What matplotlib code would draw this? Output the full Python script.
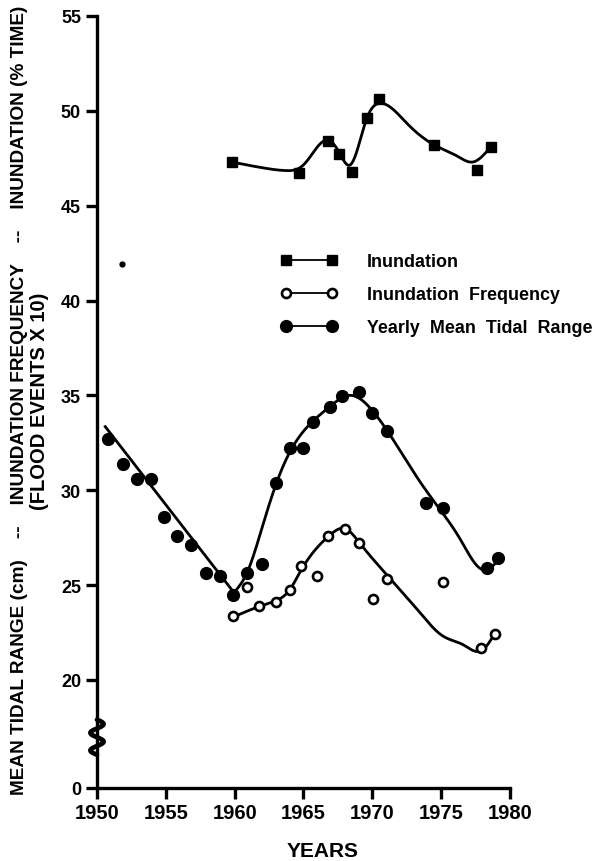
import numpy as np
import matplotlib.pyplot as plt
from matplotlib import transforms

plt.rcParams['font.family'] = ['Liberation Sans', 'DejaVu Sans']
plt.rcParams['font.weight'] = 'bold'

# data
# inundation (% time) - filled squares
inund_years = [1959.8, 1964.7, 1966.8, 1967.6, 1968.5, 1969.6, 1970.5, 1974.5, 1977.6, 1978.6]
inund_vals = [47.3, 46.7, 48.4, 47.7, 46.8, 49.6, 50.6, 48.2, 46.9, 48.1]
# hand drawn curve through the inundation points
inund_curve_years = [1959.8, 1962.0, 1963.7, 1965.0, 1966.8, 1967.6, 1968.4, 1969.6, 1970.6,
                     1972.5, 1974.5, 1976.2, 1977.3, 1978.6]
inund_curve_vals = [47.3, 47.0, 46.85, 47.15, 48.45, 47.8, 47.15, 49.6, 50.4,
                    49.35, 48.2, 47.6, 47.3, 48.1]

# inundation frequency (flood events x 10) - open circles
freq_years = [1959.9, 1960.9, 1961.8, 1963.0, 1964.0, 1964.8, 1966.0, 1966.8, 1968.0, 1969.0,
              1970.05, 1971.1, 1975.1, 1977.9, 1978.9]
freq_vals = [23.35, 24.9, 23.9, 24.1, 24.75, 26.0, 25.5, 27.6, 27.95, 27.2,
             24.25, 25.3, 25.15, 21.7, 22.4]
freq_curve_years = [1959.95, 1961.8, 1962.95, 1964.0, 1964.8, 1966.9, 1968.0, 1969.1, 1971.1,
                    1973.45, 1975.15, 1976.6, 1977.95, 1978.9]
freq_curve_vals = [23.33, 23.87, 24.16, 24.75, 25.75, 27.62, 27.98, 27.2, 25.5,
                   23.55, 22.3, 21.85, 21.55, 22.45]

# yearly mean tidal range (cm) - filled circles
tide_years = [1950.8, 1951.9, 1952.9, 1953.9, 1954.9, 1955.8, 1956.8, 1957.9, 1958.9, 1959.9,
              1960.9, 1962.0, 1963.0, 1964.0, 1965.0, 1965.7, 1966.9, 1967.8, 1969.0, 1970.0,
              1971.1, 1973.9, 1975.1, 1978.3, 1979.1]
tide_vals = [32.7, 31.4, 30.6, 30.6, 28.6, 27.6, 27.1, 25.65, 25.5, 24.45,
             25.65, 26.1, 30.4, 32.2, 32.2, 33.6, 34.4, 34.95, 35.2, 34.05,
             33.1, 29.35, 29.05, 25.9, 26.4]
# straight decline 1950-1960, then smooth rise and fall
tide_line_years = [1950.6, 1959.95]
tide_line_vals = [33.35, 24.6]
tide_curve_years = [1959.95, 1960.9, 1961.9, 1962.9, 1964.0, 1965.7, 1966.9, 1968.4, 1970.0,
                    1971.3, 1973.45, 1975.15, 1976.4, 1978.06, 1979.15]
tide_curve_vals = [24.6, 25.65, 27.8, 30.1, 32.0, 33.65, 34.4, 35.0, 34.2,
                   32.9, 30.46, 28.75, 27.4, 25.8, 26.3]

# stray dot on the original
stray_years = [1951.8]
stray_vals = [41.95]

y_bottom = 14.3  # where the broken axis puts "0"
y_ticks = [y_bottom, 20, 25, 30, 35, 40, 45, 50, 55]
y_ticklabels = ['0', '20', '25', '30', '35', '40', '45', '50', '55']
x_ticks = [1950, 1955, 1960, 1965, 1970, 1975, 1980]


def spline(xs, ys, n=400):
    # natural cubic spline through the curve knots
    x = np.asarray(xs, float)
    y = np.asarray(ys, float)
    h = np.diff(x)
    m = len(x)
    A = np.zeros((m, m))
    b = np.zeros(m)
    A[0, 0] = A[-1, -1] = 1
    for i in range(1, m - 1):
        A[i, i - 1] = h[i - 1]
        A[i, i] = 2 * (h[i - 1] + h[i])
        A[i, i + 1] = h[i]
        b[i] = 3 * ((y[i + 1] - y[i]) / h[i] - (y[i] - y[i - 1]) / h[i - 1])
    c = np.linalg.solve(A, b)
    bc = (y[1:] - y[:-1]) / h - h * (2 * c[:-1] + c[1:]) / 3
    d = (c[1:] - c[:-1]) / (3 * h)
    xx = np.linspace(x[0], x[-1], n)
    k = np.clip(np.searchsorted(x, xx) - 1, 0, m - 2)
    dx = xx - x[k]
    return xx, y[k] + bc[k] * dx + c[k] * dx ** 2 + d[k] * dx ** 3


fig = plt.figure(figsize=(5.98, 8.62), dpi=100)
ax = fig.add_axes([0.1622, 0.0847, 0.6906, 0.8956])

lw = 2.0
# inundation
ax.plot(*spline(inund_curve_years, inund_curve_vals), color='black', lw=lw)
ax.plot(inund_years, inund_vals, 's', color='black', ms=7.5, label='Inundation')
# frequency
ax.plot(*spline(freq_curve_years, freq_curve_vals), color='black', lw=lw)
ax.plot(freq_years, freq_vals, 'o', mfc='white', mec='black', mew=1.9, ms=6.5,
        label='Inundation  Frequency')
# tidal range
ax.plot(tide_line_years, tide_line_vals, color='black', lw=lw)
ax.plot(*spline(tide_curve_years, tide_curve_vals), color='black', lw=lw)
ax.plot(tide_years, tide_vals, 'o', color='black', ms=8.5, label='Yearly  Mean  Tidal  Range')
ax.plot(stray_years, stray_vals, 'o', color='black', ms=3.5)

ax.set_xlim(1950, 1980)
ax.set_ylim(y_bottom, 55)
ax.set_xticks(x_ticks)
ax.set_yticks(y_ticks)
ax.set_yticklabels(y_ticklabels)
for s in ['top', 'right']:
    ax.spines[s].set_visible(False)
for s in ['left', 'bottom']:
    ax.spines[s].set_linewidth(2.4)
ax.tick_params(axis='y', length=8, width=2.4, pad=3.5, labelsize=13)
ax.tick_params(axis='x', length=8, width=2.4, pad=3, labelsize=14.5)

# axis break squiggle
trans = transforms.blended_transform_factory(ax.transAxes, ax.transData)
sy = np.linspace(17.9, 16.05, 60)
sx = 0.016 * np.sin(np.linspace(0, 4 * np.pi, 60))
ax.plot(sx, sy, color='black', lw=3.4, transform=trans, clip_on=False, solid_capstyle='round')

# legend with markers at both ends of each handle
h, l = ax.get_legend_handles_labels()
h = [plt.Line2D([], [], marker=x.get_marker(), color='black', lw=1.3, ms=x.get_markersize(),
                mfc=x.get_markerfacecolor(), mec='black', mew=x.get_markeredgewidth()) for x in h]
ax.legend(h, l, loc='upper left', bbox_to_anchor=(281 / 598, 1 - 254 / 862),
          bbox_transform=fig.transFigure, frameon=False, numpoints=2, handlelength=3.15,
          handletextpad=1.65, labelspacing=0.9, borderpad=0, borderaxespad=0,
          prop={'size': 12.9, 'weight': 'bold'})

fig.text(323 / 598, 1 - 852 / 862, 'YEARS', ha='center', va='center', fontsize=15)
fig.text(20 / 598, 1 - 400 / 862,
         'MEAN TIDAL RANGE (cm)    --    INUNDATION FREQUENCY    --    INUNDATION (% TIME)',
         rotation=90, ha='center', va='center', fontsize=13.7)
fig.text(40 / 598, 1 - 401 / 862, '(FLOOD EVENTS X 10)', rotation=90, ha='center',
         va='center', fontsize=14.5)

fig.savefig('out.png', dpi=100)
